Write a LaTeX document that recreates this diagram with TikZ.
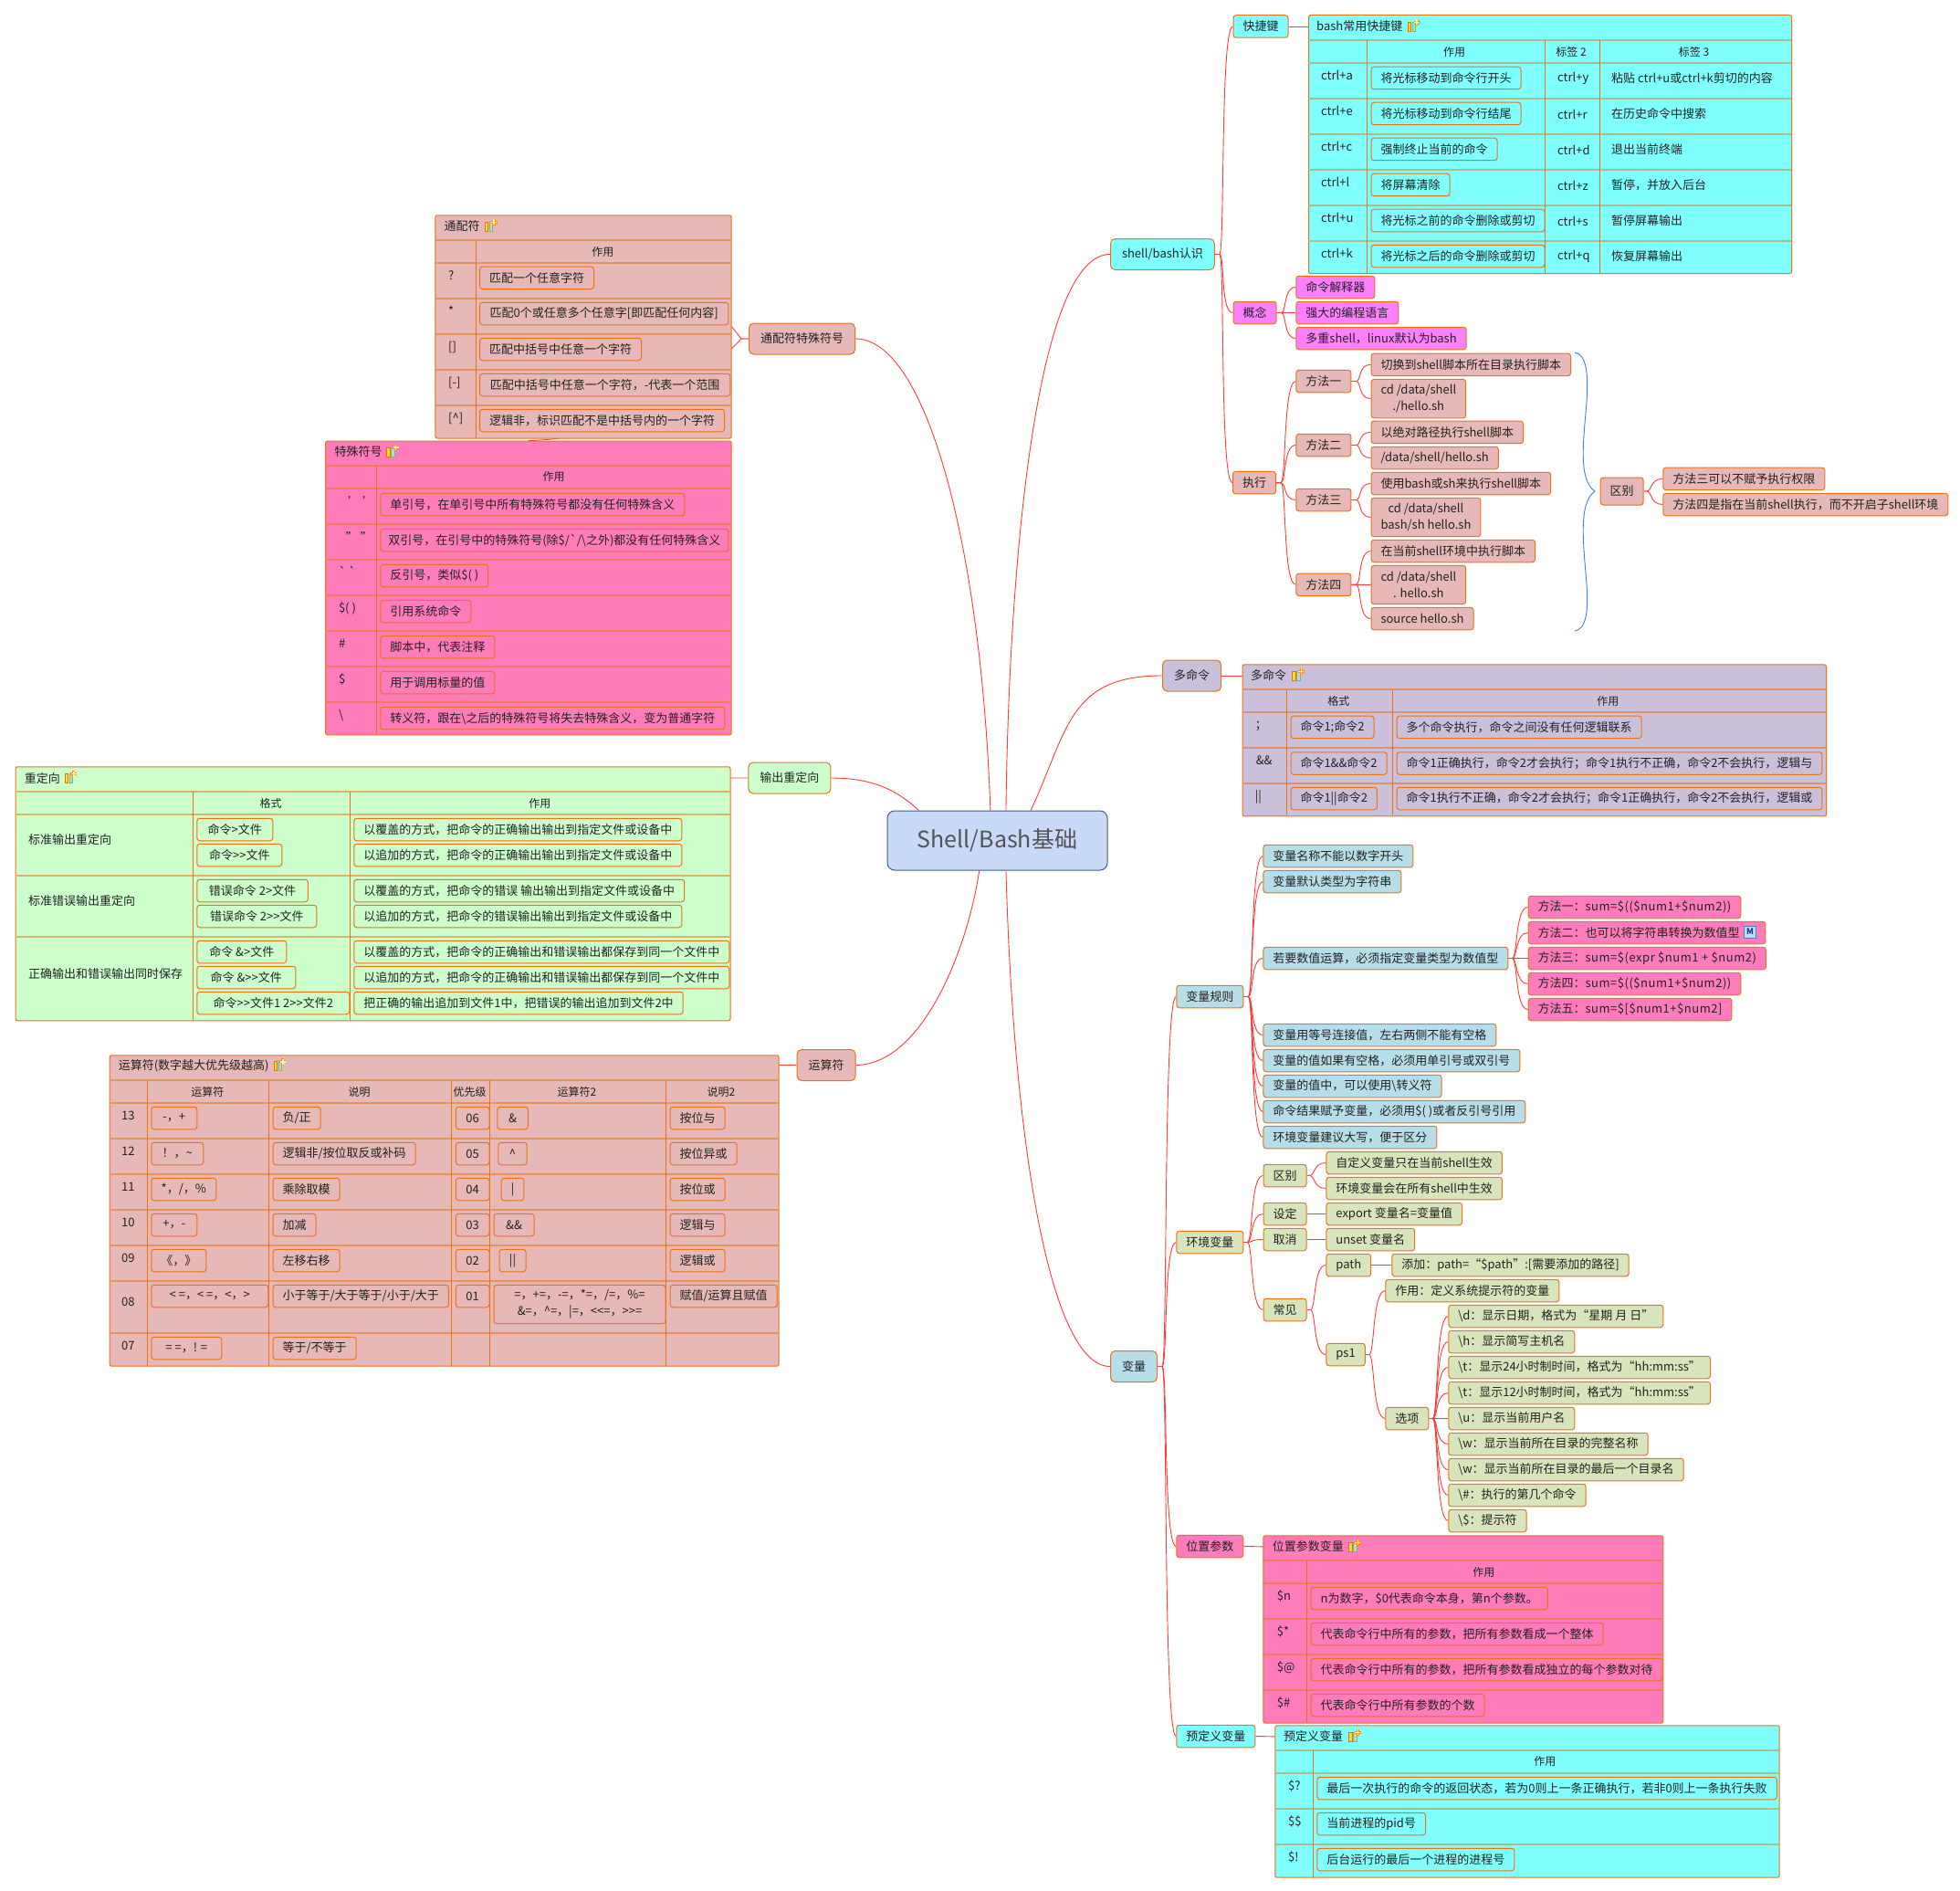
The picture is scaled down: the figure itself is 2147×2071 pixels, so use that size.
\documentclass[tikz,border=0pt]{standalone}
\usepackage{fontspec}
\setmainfont{Noto Sans CJK SC}
\usetikzlibrary{backgrounds}

\definecolor{ink}{HTML}{222222}
\definecolor{boxline}{HTML}{EC7216}
\definecolor{linkred}{HTML}{FF3A3A}
\definecolor{bracelink}{HTML}{3F80D8}
\definecolor{rootfill}{HTML}{C9DAF8}
\definecolor{rootline}{HTML}{3E5C8E}
\definecolor{tcyan}{HTML}{80FFFF}
\definecolor{tpink}{HTML}{FF7CBB}
\definecolor{tmagenta}{HTML}{FF80FF}
\definecolor{trose}{HTML}{E6B8B7}
\definecolor{tviolet}{HTML}{CBC0DA}
\definecolor{tgreen}{HTML}{CCFFCC}
\definecolor{tblue}{HTML}{B7DDE8}
\definecolor{tolive}{HTML}{D8E4BC}
\definecolor{sepcyan}{HTML}{A9BD8F}
\definecolor{seppink}{HTML}{F6785F}
\definecolor{seprose}{HTML}{E5935F}
\definecolor{sepviolet}{HTML}{DE9171}
\definecolor{sepgreen}{HTML}{D7B86A}
\newcommand{\widelatin}[1]{{\addfontfeature{LetterSpace=4}#1}}

\tikzset{
  rootbox/.style={draw=rootline, line width=1pt, rounded corners=8pt, fill=rootfill,
    minimum width=241pt, minimum height=65pt, font=\fontsize{25pt}{28pt}\selectfont, text=black!67},
  mainbox/.style={draw=boxline, line width=1pt, rounded corners=5pt, fill=#1, anchor=west,
    inner xsep=12.5pt, inner ysep=0pt, minimum height=34pt},
  tagbox/.style={draw=boxline, line width=1pt, rounded corners=3pt, fill=#1, anchor=west,
    inner xsep=10.5pt, inner ysep=0pt, minimum height=24.5pt},
  tagbox/.default=none,
  twoline/.style={align=center, minimum height=42.3pt},
  tablebox/.style={draw=boxline, line width=1pt, rounded corners=2pt, fill=#1, anchor=north west, inner sep=0pt},
  rowline/.style={draw=#1, line width=2pt},
  colline/.style={draw=boxline, line width=.9pt},
  titletext/.style={anchor=west, inner sep=0pt},
  headtext/.style={inner sep=0pt, font=\fontsize{12pt}{14pt}\selectfont},
  keytext/.style={anchor=base west, inner sep=0pt},
  plaintext/.style={anchor=west, inner sep=0pt},
  link/.style={draw=linkred, line width=.9pt},
  branch/.style={out=0, in=180, out distance=6pt, in distance=14pt},
  noteicon/.pic={
    \filldraw[draw=orange!90!black, fill=yellow!70!orange!80, line width=.8pt] (0,-4.7) rectangle (3.4,5.3);
    \filldraw[draw=green!30!gray!80, fill=green!25!gray!40, line width=.8pt] (5,-4.7) rectangle (8.4,5.3);
    \draw[orange!90, line width=3pt] (9.7,-8.2) -- (9.7,-1.2) (6.2,-4.7) -- (13.2,-4.7);
    \draw[yellow!40!white, line width=1.4pt] (9.7,-7.7) -- (9.7,-1.7) (6.7,-4.7) -- (12.7,-4.7);
  },
  every node/.style={font=\fontsize{13pt}{18pt}\selectfont, text=ink}
}

\begin{document}
\begin{tikzpicture}[x=1pt,y=-1pt]
\useasboundingbox (0,0) rectangle (2147,2071);

% root and first level
\node[rootbox] (root) at (1092.5,920.5) {Shell/Bash基础};
\node[mainbox=tcyan] (shell) at (1216,278.5) {shell/bash认识};
\node[mainbox=tviolet] (multi) at (1273,740) {多命令};
\node[mainbox=tblue] (vars) at (1216,1496.5) {变量};
\node[mainbox=trose, anchor=east] (wild) at (937,371) {通配符特殊符号};
\node[mainbox=tgreen, anchor=east] (redirect) at (910.4,852) {输出重定向};
\node[mainbox=trose, anchor=east] (calc) at (937.6,1166.5) {运算符};

% hot keys
\node[tagbox=tcyan] (hotkey) at (1350.5,29) {快捷键};
\node[tablebox=tcyan, minimum width=529pt, minimum height=283pt] (hotkeytab) at (1433,16) {};
\draw[rowline=sepcyan] (1433,44) -- (1962,44) (1433,69) -- (1962,69) (1433,108) -- (1962,108) (1433,147) -- (1962,147)
  (1433,186) -- (1962,186) (1433,225) -- (1962,225) (1433,264) -- (1962,264);
\draw[colline] (1497.5,44) -- (1497.5,299) (1692.3,44) -- (1692.3,299) (1752.5,44) -- (1752.5,299);
\node[titletext] (hotkeytitle) at (1442,29) {bash常用快捷键};
\pic at (1542.3,29) {noteicon};
\node[headtext] (hkhead1) at (1593,56.5) {作用};
\node[headtext] (hkhead2) at (1721,56.5) {标签 2};
\node[headtext] (hkhead3) at (1855.6,56.5) {标签 3};
\node[keytext] (hkkey1) at (1447,87.5) {ctrl+a};
\node[keytext] (hkkey2) at (1447,126.5) {ctrl+e};
\node[keytext] (hkkey3) at (1447,165.5) {ctrl+c};
\node[keytext] (hkkey4) at (1447,204.5) {ctrl+l};
\node[keytext] (hkkey5) at (1447,243.5) {ctrl+u};
\node[keytext] (hkkey6) at (1447,282.5) {ctrl+k};
\node[tagbox] (hkcell1) at (1501.5,85.5) {将光标移动到命令行开头};
\node[tagbox] (hkcell2) at (1501.5,124.5) {将光标移动到命令行结尾};
\node[tagbox] (hkcell3) at (1501.5,163.5) {强制终止当前的命令};
\node[tagbox] (hkcell4) at (1501.5,202.5) {将屏幕清除};
\node[tagbox] (hkcell5) at (1501.5,241.5) {将光标之前的命令删除或剪切};
\node[tagbox] (hkcell6) at (1501.5,280.5) {将光标之后的命令删除或剪切};
\node[plaintext] (hkother1) at (1706,86) {ctrl+y};
\node[plaintext] (hkother2) at (1706,125) {ctrl+r};
\node[plaintext] (hkother3) at (1706,164) {ctrl+d};
\node[plaintext] (hkother4) at (1706,203) {ctrl+z};
\node[plaintext] (hkother5) at (1706,242) {ctrl+s};
\node[plaintext] (hkother6) at (1706,281) {ctrl+q};
\node[plaintext] (hknote1) at (1765,86) {粘贴 ctrl+u或ctrl+k剪切的内容};
\node[plaintext] (hknote2) at (1765,125) {在历史命令中搜索};
\node[plaintext] (hknote3) at (1765,164) {退出当前终端};
\node[plaintext] (hknote4) at (1765,203) {暂停，并放入后台};
\node[plaintext] (hknote5) at (1765,242) {暂停屏幕输出};
\node[plaintext] (hknote6) at (1765,281) {恢复屏幕输出};

% concept
\node[tagbox=tmagenta] (concept) at (1350.5,342.5) {概念};
\node[tagbox=tmagenta] (concept1) at (1419.4,314.5) {命令解释器};
\node[tagbox=tmagenta] (concept2) at (1419.4,342.5) {强大的编程语言};
\node[tagbox=tmagenta] (concept3) at (1419.4,370.5) {多重shell，linux默认为bash};

% running a script
\node[tagbox=trose] (run) at (1350,528.6) {执行};
\node[tagbox=trose] (way1) at (1419.4,417.5) {方法一};
\node[tagbox=trose] (way2) at (1419.4,487.5) {方法二};
\node[tagbox=trose] (way3) at (1419.4,547.5) {方法三};
\node[tagbox=trose] (way4) at (1419.4,640.3) {方法四};
\node[tagbox=trose] (way1a) at (1501.5,399.3) {切换到shell脚本所在目录执行脚本};
\node[tagbox=trose, twoline] (way1b) at (1501.5,436.6) {cd /data/shell\\./hello.sh};
\node[tagbox=trose] (way2a) at (1501.5,473.4) {以绝对路径执行shell脚本};
\node[tagbox=trose] (way2b) at (1501.5,501.5) {/data/shell/hello.sh};
\node[tagbox=trose] (way3a) at (1501.5,529.5) {使用bash或sh来执行shell脚本};
\node[tagbox=trose, twoline] (way3b) at (1501.5,566.5) {cd /data/shell\\bash/sh hello.sh};
\node[tagbox=trose] (way4a) at (1501.5,603.5) {在当前shell环境中执行脚本};
\node[tagbox=trose, twoline] (way4b) at (1501.5,640.5) {cd /data/shell\\. hello.sh};
\node[tagbox=trose] (way4c) at (1501.5,677.5) {source hello.sh};
\node[tagbox=trose, minimum height=30pt] (diff) at (1752.7,538) {区别};
\node[tagbox=trose] (diff1) at (1821.3,524.4) {方法三可以不赋予执行权限};
\node[tagbox=trose] (diff2) at (1821.3,552.5) {方法四是指在当前shell执行，而不开启子shell环境};
\coordinate (bracetop) at (1725,386);
\coordinate (bracetip) at (1747,538);
\coordinate (braceend) at (1725,691);
\draw[draw=bracelink, line width=.9pt] (bracetop) .. controls (1738,388) and (1740,410) .. (1738,440)
  .. controls (1735,480) and (1728,525) .. (bracetip)
  .. controls (1728,551) and (1735,600) .. (1738,640)
  .. controls (1740,668) and (1738,689) .. (braceend);

% several commands
\node[tablebox=tviolet, minimum width=639.5pt, minimum height=166pt] (multitab) at (1360.5,727.4) {};
\draw[rowline=sepviolet] (1360.5,755) -- (2000,755) (1360.5,779.8) -- (2000,779.8) (1360.5,819) -- (2000,819) (1360.5,858) -- (2000,858);
\draw[colline] (1409.7,755) -- (1409.7,893.4) (1525.3,755) -- (1525.3,893.4);
\node[titletext] (multititle) at (1370,740) {多命令};
\pic at (1415.6,740) {noteicon};
\node[headtext] (mhead1) at (1466.4,767.7) {格式};
\node[headtext] (mhead2) at (1761.4,767.7) {作用};
\node[keytext] (mkey1) at (1374.6,798.3) {；};
\node[keytext] (mkey2) at (1375.6,837.5) {\&\&};
\node[keytext] (mkey3) at (1374.6,876.5) {||};
\node[tagbox] (mform1) at (1413.5,796.4) {命令1;命令2};
\node[tagbox] (mform2) at (1413.5,836) {命令1\&\&命令2};
\node[tagbox] (mform3) at (1413.5,874.5) {命令1||命令2};
\node[tagbox] (mcell1) at (1529.6,796.4) {多个命令执行，命令之间没有任何逻辑联系};
\node[tagbox] (mcell2) at (1529.6,836) {命令1正确执行，命令2才会执行；命令1执行不正确，命令2不会执行，逻辑与};
\node[tagbox] (mcell3) at (1529.6,874.5) {命令1执行不正确，命令2才会执行；命令1正确执行，命令2不会执行，逻辑或};

% wildcard table
\node[tablebox=trose, minimum width=324.3pt, minimum height=244.2pt] (wildtab) at (476.4,235.3) {};
\draw[rowline=seprose] (476.4,262.9) -- (800.7,262.9) (476.4,288) -- (800.7,288) (476.4,327) -- (800.7,327)
  (476.4,365.8) -- (800.7,365.8) (476.4,404.8) -- (800.7,404.8) (476.4,443.9) -- (800.7,443.9);
\draw[colline] (521.5,263) -- (521.5,479.5);
\node[titletext] (wildtitle) at (486.3,248) {通配符};
\pic at (531.4,248) {noteicon};
\node[headtext] (whead) at (660.3,275.5) {作用};
\node[keytext] (wkey1) at (491,306.5) {?};
\node[keytext] (wkey2) at (491,345.5) {*};
\node[keytext] (wkey3) at (491,384.5) {[]};
\node[keytext] (wkey4) at (491,423.5) {[-]};
\node[keytext] (wkey5) at (491,462.5) {[\textasciicircum]};
\node[tagbox] (wcell1) at (525,304.3) {匹配一个任意字符};
\node[tagbox, minimum width=272.4pt] (wcell2) at (525,343.5) {匹配0个或任意多个任意字[即匹配任何内容]};
\node[tagbox] (wcell3) at (525,382.5) {匹配中括号中任意一个字符};
\node[tagbox, minimum width=274.4pt] (wcell4) at (525,421.5) {匹配中括号中任意一个字符，-代表一个范围};
\node[tagbox] (wcell5) at (525,460.5) {逻辑非，标识匹配不是中括号内的一个字符};

% special symbols table
\node[tablebox=tpink, minimum width=444.5pt, minimum height=321.9pt] (spectab) at (356.2,482.5) {};
\draw[rowline=seppink] (356.2,509.7) -- (800.7,509.7) (356.2,535.4) -- (800.7,535.4) (356.2,574.4) -- (800.7,574.4)
  (356.2,613) -- (800.7,613) (356.2,652) -- (800.7,652) (356.2,691) -- (800.7,691) (356.2,730) -- (800.7,730) (356.2,769) -- (800.7,769);
\draw[colline] (412.8,509.7) -- (412.8,804.4);
\node[titletext] (spectitle) at (366.5,494.8) {特殊符号};
\pic at (423.8,494.8) {noteicon};
\node[headtext] (shead) at (606.5,522.3) {作用};
\node[keytext] (skey1) at (381,554) {' '};
\node[keytext] (skey2) at (378.7,593) {" "};
\node[keytext] (skey3) at (371,631.5) {\textasciigrave\ \textasciigrave};
\node[keytext] (skey4) at (370.8,670.5) {\$( )};
\node[keytext] (skey5) at (370.8,709.5) {\#};
\node[keytext] (skey6) at (370.8,748.5) {\$};
\node[keytext] (skey7) at (370.8,787.5) {\textbackslash};
\node[tagbox] (scell1) at (416.3,552.7) {单引号，在单引号中所有特殊符号都没有任何特殊含义};
\node[tagbox, inner xsep=8.5pt] (scell2) at (416.3,591.7) {双引号，在引号中的特殊符号(除\$/\textasciigrave/\textbackslash 之外)都没有任何特殊含义};
\node[tagbox] (scell3) at (416.3,630.7) {反引号，类似\$( )};
\node[tagbox] (scell4) at (416.3,669.7) {引用系统命令};
\node[tagbox] (scell5) at (416.3,708.7) {脚本中，代表注释};
\node[tagbox] (scell6) at (416.3,747.7) {用于调用标量的值};
\node[tagbox] (scell7) at (416.3,786.7) {转义符，跟在\textbackslash 之后的特殊符号将失去特殊含义，变为普通字符};

% redirect table
\node[tablebox=tgreen, minimum width=782.9pt, minimum height=278pt] (redirtab) at (16.6,839.3) {};
\draw[rowline=sepgreen] (16.6,867) -- (799.5,867) (16.6,891.7) -- (799.5,891.7) (16.6,958.7) -- (799.5,958.7) (16.6,1026) -- (799.5,1026);
\draw[colline] (211,867) -- (211,1117.3) (383,867) -- (383,1117.3);
\node[titletext] (redirtitle) at (26.7,852.3) {重定向};
\pic at (71.2,852.3) {noteicon};
\node[headtext] (rhead1) at (296.6,879.7) {格式};
\node[headtext] (rhead2) at (591.3,879.7) {作用};
\node[plaintext] (rrow1) at (30.8,919.3) {标准输出重定向};
\node[plaintext] (rrow2) at (30.8,986.3) {标准错误输出重定向};
\node[plaintext] (rrow3) at (30.8,1067) {正确输出和错误输出同时保存};
\node[tagbox, minimum width=83pt] (rform1) at (215.3,908.5) {命令>文件};
\node[tagbox, minimum width=93pt] (rform2) at (215.3,936.5) {命令>{}>文件};
\node[tagbox, minimum width=121.5pt] (rform3) at (215.3,975.5) {错误命令 2>文件};
\node[tagbox, minimum width=131pt] (rform4) at (215.3,1003.5) {错误命令 2>{}>文件};
\node[tagbox, minimum width=98pt] (rform5) at (215.3,1042.5) {命令 \&>文件};
\node[tagbox, minimum width=108pt] (rform6) at (215.3,1070.5) {命令 \&>{}>文件};
\node[tagbox, minimum width=167pt] (rform7) at (215.3,1098.5) {命令>{}>文件1 2>{}>文件2};
\node[tagbox] (rcell1) at (387.3,908.5) {以覆盖的方式，把命令的正确输出输出到指定文件或设备中};
\node[tagbox] (rcell2) at (387.3,936.5) {以追加的方式，把命令的正确输出输出到指定文件或设备中};
\node[tagbox] (rcell3) at (387.3,975.5) {以覆盖的方式，把命令的错误 输出输出到指定文件或设备中};
\node[tagbox] (rcell4) at (387.3,1003.5) {以追加的方式，把命令的错误输出输出到指定文件或设备中};
\node[tagbox] (rcell5) at (387.3,1042.5) {以覆盖的方式，把命令的正确输出和错误输出都保存到同一个文件中};
\node[tagbox] (rcell6) at (387.3,1070.5) {以追加的方式，把命令的正确输出和错误输出都保存到同一个文件中};
\node[tagbox] (rcell7) at (387.3,1098.5) {把正确的输出追加到文件1中，把错误的输出追加到文件2中};

% operators table
\node[tablebox=trose, minimum width=732.9pt, minimum height=340.4pt] (calctab) at (119.7,1155.3) {};
\draw[rowline=seprose] (119.7,1182.7) -- (852.6,1182.7) (119.7,1208) -- (852.6,1208) (119.7,1247) -- (852.6,1247) (119.7,1286) -- (852.6,1286)
  (119.7,1325) -- (852.6,1325) (119.7,1364) -- (852.6,1364) (119.7,1403) -- (852.6,1403) (119.7,1460) -- (852.6,1460);
\draw[colline] (161.4,1182.7) -- (161.4,1495.7) (294.7,1182.7) -- (294.7,1495.7) (494.4,1182.7) -- (494.4,1495.7)
  (536.6,1182.7) -- (536.6,1495.7) (729.7,1182.7) -- (729.7,1495.7);
\node[titletext] (calctitle) at (129.6,1167.5) {运算符(数字越大优先级越高)};
\pic at (300.2,1167.5) {noteicon};
\node[headtext] (chead1) at (227.3,1195.7) {运算符};
\node[headtext] (chead2) at (393.5,1195.7) {说明};
\node[headtext] (chead3) at (514.7,1195.7) {优先级};
\node[headtext] (chead4) at (632,1195.7) {运算符2};
\node[headtext] (chead5) at (790,1195.7) {说明2};
\node[keytext] (ckey1) at (133,1226.5) {13};
\node[keytext] (ckey2) at (133,1265.5) {12};
\node[keytext] (ckey3) at (133,1304.5) {11};
\node[keytext] (ckey4) at (133,1343.5) {10};
\node[keytext] (ckey5) at (133,1382.5) {09};
\node[keytext] (ckey6) at (133,1430) {08};
\node[keytext] (ckey7) at (133,1478) {07};
\node[tagbox, minimum width=50pt] (cop1) at (165.3,1224.5) {-，+};
\node[tagbox, minimum width=57pt] (cop2) at (165.3,1263.5) {！，\textasciitilde};
\node[tagbox, minimum width=71pt] (cop3) at (165.3,1302.5) {*，/，\%};
\node[tagbox, minimum width=50pt] (cop4) at (165.3,1341.5) {+，-};
\node[tagbox, minimum width=60pt] (cop5) at (165.3,1380.5) {《，》};
\node[tagbox, minimum width=128pt, inner xsep=4pt] (cop6) at (165.3,1419.5) {< =，< =，<，>};
\node[tagbox, minimum width=77pt] (cop7) at (165.3,1476.5) {= =，! =};
\node[tagbox] (cnote1) at (298.6,1224.5) {负/正};
\node[tagbox] (cnote2) at (298.6,1263.5) {逻辑非/按位取反或补码};
\node[tagbox] (cnote3) at (298.6,1302.5) {乘除取模};
\node[tagbox] (cnote4) at (298.6,1341.5) {加减};
\node[tagbox] (cnote5) at (298.6,1380.5) {左移右移};
\node[tagbox] (cnote6) at (298.6,1419.5) {小于等于/大于等于/小于/大于};
\node[tagbox] (cnote7) at (298.6,1476.5) {等于/不等于};
\node[tagbox, minimum width=36.7pt, inner xsep=4pt] (cpri1) at (498.8,1224.5) {06};
\node[tagbox, minimum width=36.7pt, inner xsep=4pt] (cpri2) at (498.8,1263.5) {05};
\node[tagbox, minimum width=36.7pt, inner xsep=4pt] (cpri3) at (498.8,1302.5) {04};
\node[tagbox, minimum width=36.7pt, inner xsep=4pt] (cpri4) at (498.8,1341.5) {03};
\node[tagbox, minimum width=36.7pt, inner xsep=4pt] (cpri5) at (498.8,1380.5) {02};
\node[tagbox, minimum width=36.7pt, inner xsep=4pt] (cpri6) at (498.8,1419.5) {01};
\node[tagbox, minimum width=33.5pt, inner xsep=4pt] (copb1) at (544.3,1224.5) {\&};
\node[tagbox, minimum width=31.3pt, inner xsep=4pt] (copb2) at (545.4,1263.5) {\textasciicircum};
\node[tagbox, minimum width=24.7pt, inner xsep=4pt] (copb3) at (548.7,1302.5) {|};
\node[tagbox, minimum width=44pt, inner xsep=4pt] (copb4) at (540.5,1341.5) {\&\&};
\node[tagbox, minimum width=29pt, inner xsep=4pt] (copb5) at (546.5,1380.5) {||};
\node[tagbox, twoline, minimum width=188pt, inner xsep=4pt] (copb6) at (540.5,1428.5) {=，+=，-=，*=，/=，\%=\\\&=，\textasciicircum=，|=，<{}<=，>{}>=};
\node[tagbox] (cnoteb1) at (733.6,1224.5) {按位与};
\node[tagbox] (cnoteb2) at (733.6,1263.5) {按位异或};
\node[tagbox] (cnoteb3) at (733.6,1302.5) {按位或};
\node[tagbox] (cnoteb4) at (733.6,1341.5) {逻辑与};
\node[tagbox] (cnoteb5) at (733.6,1380.5) {逻辑或};
\node[tagbox] (cnoteb6) at (733.6,1419.5) {赋值/运算且赋值};

% variable rules
\node[tagbox=tblue] (rules) at (1288.3,1091.5) {变量规则};
\node[tagbox=tblue] (rule1) at (1383.4,937.5) {变量名称不能以数字开头};
\node[tagbox=tblue] (rule2) at (1383.4,965.5) {变量默认类型为字符串};
\node[tagbox=tblue] (rule3) at (1383.4,1049.5) {若要数值运算，必须指定变量类型为数值型};
\node[tagbox=tblue] (rule4) at (1383.4,1133.5) {变量用等号连接值，左右两侧不能有空格};
\node[tagbox=tblue] (rule5) at (1383.4,1161.5) {变量的值如果有空格，必须用单引号或双引号};
\node[tagbox=tblue] (rule6) at (1383.4,1189.5) {变量的值中，可以使用\textbackslash 转义符};
\node[tagbox=tblue] (rule7) at (1383.4,1217.5) {命令结果赋予变量，必须用\$( )或者反引号引用};
\node[tagbox=tblue] (rule8) at (1383.4,1245.5) {环境变量建议大写，便于区分};
\node[tagbox=tpink] (sum1) at (1673.6,993.5) {方法一：\widelatin{sum=\$((\$num1+\$num2))}};
\node[tagbox=tpink] (sum2) at (1673.6,1021.5) {方法二：也可以将字符串转换为数值型\kern17.8pt};
\node[tagbox=tpink] (sum3) at (1673.6,1049.5) {方法三：\widelatin{sum=\$(expr \$num1 + \$num2)}};
\node[tagbox=tpink] (sum4) at (1673.6,1077.5) {方法四：\widelatin{sum=\$((\$num1+\$num2))}};
\node[tagbox=tpink] (sum5) at (1673.6,1105.5) {方法五：\widelatin{sum=\$[\$num1+\$num2]}};
\node[draw=blue!50!cyan!60!black!70, fill=blue!40!cyan!30!white, inner sep=0pt, minimum width=13pt, minimum height=13pt,
  font=\fontsize{9pt}{10pt}\selectfont\bfseries, text=blue!40!black!80] (summark) at (1917,1020.5) {M};

% environment variables
\node[tagbox=tolive] (envvar) at (1288.4,1360.5) {环境变量};
\node[tagbox=tolive] (envdiff) at (1383.5,1287.5) {区别};
\node[tagbox=tolive] (envset) at (1383.5,1329.5) {设定};
\node[tagbox=tolive] (envunset) at (1383.5,1357.5) {取消};
\node[tagbox=tolive] (envcommon) at (1383.5,1434.5) {常见};
\node[tagbox=tolive] (envdiff1) at (1452.4,1273.5) {自定义变量只在当前shell生效};
\node[tagbox=tolive] (envdiff2) at (1452.4,1301.5) {环境变量会在所有shell中生效};
\node[tagbox=tolive] (envset1) at (1452.4,1329.5) {export 变量名=变量值};
\node[tagbox=tolive] (envunset1) at (1452.4,1357.5) {unset 变量名};
\node[tagbox=tolive] (envpath) at (1452.4,1385.5) {path};
\node[tagbox=tolive] (envpath1) at (1524.3,1385.5) {添加：path=“\$path”:[需要添加的路径]};
\node[tagbox=tolive] (envps) at (1452.4,1483.5) {ps1};
\node[tagbox=tolive] (envps1) at (1517.3,1413.5) {作用：定义系统提示符的变量};
\node[tagbox=tolive] (envopt) at (1517.3,1553.5) {选项};
\node[tagbox=tolive] (opt1) at (1586.3,1441.5) {\textbackslash d：显示日期，格式为“星期 月 日”};
\node[tagbox=tolive] (opt2) at (1586.3,1469.5) {\textbackslash h：显示简写主机名};
\node[tagbox=tolive] (opt3) at (1586.3,1497.5) {\textbackslash t：显示24小时制时间，格式为“hh:mm:ss”};
\node[tagbox=tolive] (opt4) at (1586.3,1525.5) {\textbackslash t：显示12小时制时间，格式为“hh:mm:ss”};
\node[tagbox=tolive] (opt5) at (1586.3,1553.5) {\textbackslash u：显示当前用户名};
\node[tagbox=tolive] (opt6) at (1586.3,1581.5) {\textbackslash w：显示当前所在目录的完整名称};
\node[tagbox=tolive] (opt7) at (1586.3,1609.5) {\textbackslash w：显示当前所在目录的最后一个目录名};
\node[tagbox=tolive] (opt8) at (1586.3,1637.5) {\textbackslash \#：执行的第几个命令};
\node[tagbox=tolive] (opt9) at (1586.3,1665.5) {\textbackslash \$：提示符};

% positional parameters
\node[tagbox=tpink] (posparam) at (1288.3,1693.5) {位置参数};
\node[tablebox=tpink, minimum width=437.9pt, minimum height=205.4pt] (postab) at (1383.4,1681.3) {};
\draw[rowline=seppink] (1383.4,1708.7) -- (1821.3,1708.7) (1383.4,1733.7) -- (1821.3,1733.7) (1383.4,1772.7) -- (1821.3,1772.7)
  (1383.4,1811.7) -- (1821.3,1811.7) (1383.4,1850.7) -- (1821.3,1850.7);
\draw[colline] (1431.2,1708.7) -- (1431.2,1886.7);
\node[titletext] (postitle) at (1393.7,1694) {位置参数变量};
\pic at (1477.6,1694) {noteicon};
\node[headtext] (phead) at (1625.4,1721.7) {作用};
\node[keytext] (pkey1) at (1398.6,1752.2) {\$n};
\node[keytext] (pkey2) at (1398.6,1791.2) {\$*};
\node[keytext] (pkey3) at (1398.6,1830.2) {\$@};
\node[keytext] (pkey4) at (1398.6,1869.2) {\$\#};
\node[tagbox] (pcell1) at (1435.6,1750.5) {n为数字，\$0代表命令本身，第n个参数。};
\node[tagbox] (pcell2) at (1435.6,1789.5) {代表命令行中所有的参数，把所有参数看成一个整体};
\node[tagbox] (pcell3) at (1435.6,1828.5) {代表命令行中所有的参数，把所有参数看成独立的每个参数对待};
\node[tagbox] (pcell4) at (1435.6,1867.5) {代表命令行中所有参数的个数};

% predefined variables
\node[tagbox=tcyan] (predef) at (1288.3,1901.5) {预定义变量};
\node[tablebox=tcyan, minimum width=552.3pt, minimum height=166.4pt] (predeftab) at (1396.3,1889.3) {};
\draw[rowline=sepcyan] (1396.3,1916.7) -- (1948.6,1916.7) (1396.3,1941.7) -- (1948.6,1941.7) (1396.3,1980.7) -- (1948.6,1980.7) (1396.3,2019.7) -- (1948.6,2019.7);
\draw[colline] (1438.3,1916.7) -- (1438.3,2055.7);
\node[titletext] (predeftitle) at (1406,1902) {预定义变量};
\pic at (1477.6,1902) {noteicon};
\node[headtext] (dhead) at (1692.3,1929.3) {作用};
\node[keytext] (dkey1) at (1411,1960.2) {\$?};
\node[keytext] (dkey2) at (1411,1999.2) {\$\$};
\node[keytext] (dkey3) at (1411,2038.2) {\$!};
\node[tagbox] (dcell1) at (1442.3,1958.5) {最后一次执行的命令的返回状态，若为0则上一条正确执行，若非0则上一条执行失败};
\node[tagbox] (dcell2) at (1442.3,1997.5) {当前进程的pid号};
\node[tagbox] (dcell3) at (1442.3,2036.5) {后台运行的最后一个进程的进程号};

% connectors, behind everything
\begin{scope}[on background layer]
\draw[link] (root.74) .. controls (1105,620) and (1135,278.5) .. (shell.west);
\draw[link] (root.42) .. controls (1170,800) and (1170,740) .. (multi.west);
\draw[link] (root.286) .. controls (1110,1250) and (1150,1496.5) .. (vars.west);
\draw[link] (wild.east) .. controls (1015,371) and (1075,600) .. (root.103);
\draw[link] (redirect.east) .. controls (960,852) and (985,868) .. (root.159.5);
\draw[link] (calc.east) .. controls (1010,1166) and (1060,1040) .. (root.239);

\draw[link] (shell.east) -- ++(5,0) to[branch] (hotkey.west);
\draw[link] (shell.east) -- ++(5,0) to[branch] (concept.west);
\draw[link] (shell.east) -- ++(5,0) to[branch] (run.west);
\draw[link] (hotkey.east) -- (hotkeytitle.west);
\draw[link] (concept.east) -- ++(5,0) to[branch] (concept1.west);
\draw[link] (concept.east) -- (concept2.west);
\draw[link] (concept.east) -- ++(5,0) to[branch] (concept3.west);

\draw[link] (run.east) -- ++(5,0) to[branch] (way1.west);
\draw[link] (run.east) -- ++(5,0) to[branch] (way2.west);
\draw[link] (run.east) -- ++(5,0) to[branch] (way3.west);
\draw[link] (run.east) -- ++(5,0) to[branch] (way4.west);
\draw[link] (way1.east) -- ++(5,0) to[branch] (way1a.west);
\draw[link] (way1.east) -- ++(5,0) to[branch] (way1b.west);
\draw[link] (way2.east) -- ++(5,0) to[branch] (way2a.west);
\draw[link] (way2.east) -- ++(5,0) to[branch] (way2b.west);
\draw[link] (way3.east) -- ++(5,0) to[branch] (way3a.west);
\draw[link] (way3.east) -- ++(5,0) to[branch] (way3b.west);
\draw[link] (way4.east) -- ++(5,0) to[branch] (way4a.west);
\draw[link] (way4.east) -- (way4b.west);
\draw[link] (way4.east) -- ++(5,0) to[branch] (way4c.west);
\draw[link] (diff.east) -- ++(3,0) to[branch] (diff1.west);
\draw[link] (diff.east) -- ++(3,0) to[branch] (diff2.west);

\draw[link] (multi.east) -- (multititle.west);
\draw[link] (wild.west) -- ++(-8,0) -- (wildtab.east);
\draw[link] (wild.west) -- ++(-8,0) .. controls (790,395) and (700,481) .. (spectab.north);
\draw[link] (redirect.west) -- (redirtitle.east);
\draw[link] (calc.west) -- (calctitle.east);

\draw[link] (vars.east) -- ++(5,0) to[branch] (rules.west);
\draw[link] (vars.east) -- ++(5,0) to[branch] (envvar.west);
\draw[link] (vars.east) -- ++(5,0) to[branch] (posparam.west);
\draw[link] (vars.east) -- ++(5,0) to[branch] (predef.west);
\draw[link] (rules.east) -- ++(5,0) to[branch] (rule1.west);
\draw[link] (rules.east) -- ++(5,0) to[branch] (rule2.west);
\draw[link] (rules.east) -- ++(5,0) to[branch] (rule3.west);
\draw[link] (rules.east) -- ++(5,0) to[branch] (rule4.west);
\draw[link] (rules.east) -- ++(5,0) to[branch] (rule5.west);
\draw[link] (rules.east) -- ++(5,0) to[branch] (rule6.west);
\draw[link] (rules.east) -- ++(5,0) to[branch] (rule7.west);
\draw[link] (rules.east) -- ++(5,0) to[branch] (rule8.west);
\draw[link] (rule3.east) -- ++(4,0) to[branch] (sum1.west);
\draw[link] (rule3.east) -- ++(4,0) to[branch] (sum2.west);
\draw[link] (rule3.east) -- (sum3.west);
\draw[link] (rule3.east) -- ++(4,0) to[branch] (sum4.west);
\draw[link] (rule3.east) -- ++(4,0) to[branch] (sum5.west);

\draw[link] (envvar.east) -- ++(4,0) to[branch] (envdiff.west);
\draw[link] (envvar.east) -- ++(4,0) to[branch] (envset.west);
\draw[link] (envvar.east) -- ++(4,0) to[branch] (envunset.west);
\draw[link] (envvar.east) -- ++(4,0) to[branch] (envcommon.west);
\draw[link] (envdiff.east) -- ++(3,0) to[branch] (envdiff1.west);
\draw[link] (envdiff.east) -- ++(3,0) to[branch] (envdiff2.west);
\draw[link] (envset.east) -- (envset1.west);
\draw[link] (envunset.east) -- (envunset1.west);
\draw[link] (envcommon.east) -- ++(4,0) to[branch] (envpath.west);
\draw[link] (envcommon.east) -- ++(4,0) to[branch] (envps.west);
\draw[link] (envpath.east) -- (envpath1.west);
\draw[link] (envps.east) -- ++(4,0) to[branch] (envps1.west);
\draw[link] (envps.east) -- ++(4,0) to[branch] (envopt.west);
\draw[link] (envopt.east) -- ++(4,0) to[branch] (opt1.west);
\draw[link] (envopt.east) -- ++(4,0) to[branch] (opt2.west);
\draw[link] (envopt.east) -- ++(4,0) to[branch] (opt3.west);
\draw[link] (envopt.east) -- ++(4,0) to[branch] (opt4.west);
\draw[link] (envopt.east) -- (opt5.west);
\draw[link] (envopt.east) -- ++(4,0) to[branch] (opt6.west);
\draw[link] (envopt.east) -- ++(4,0) to[branch] (opt7.west);
\draw[link] (envopt.east) -- ++(4,0) to[branch] (opt8.west);
\draw[link] (envopt.east) -- ++(4,0) to[branch] (opt9.west);

\draw[link] (posparam.east) -- (postitle.west);
\draw[link] (predef.east) -- (predeftitle.west);
\end{scope}
\end{tikzpicture}
\end{document}
